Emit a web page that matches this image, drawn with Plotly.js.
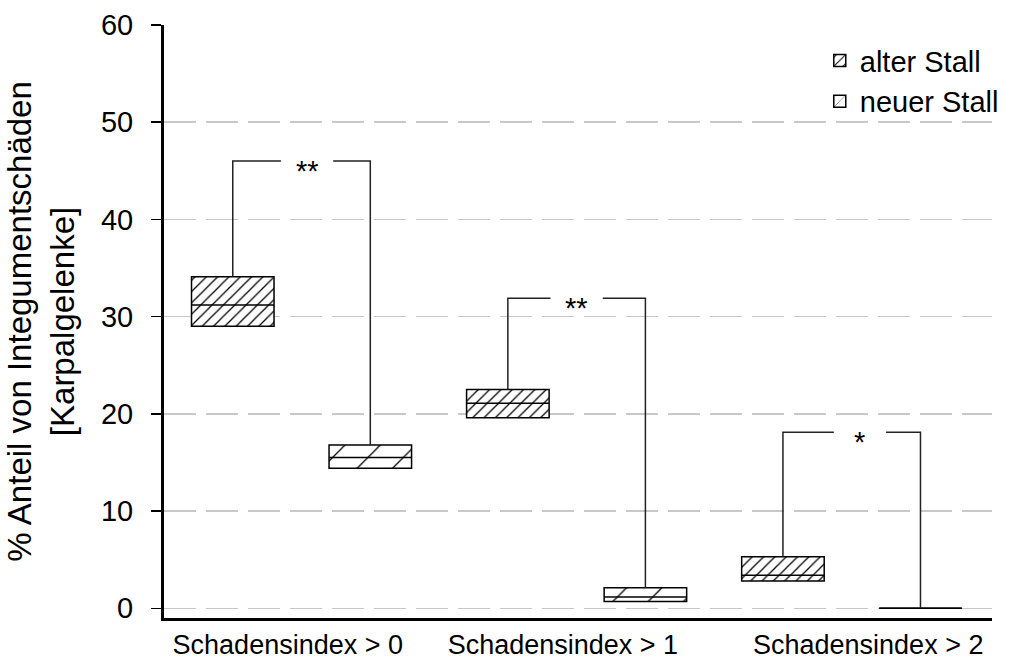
<!DOCTYPE html>
<html>
<head>
<meta charset="utf-8">
<script src="https://cdn.plot.ly/plotly-3.0.1.min.js"></script>
<style>html,body{margin:0;padding:0;background:#fff;}#chart{width:1019px;height:661px;}</style>
</head>
<body>
<div id="chart"></div>
<script>
// ---- data ----
var categories = ['Schadensindex > 0', 'Schadensindex > 1', 'Schadensindex > 2'];
var seriesNames = ['alter Stall', 'neuer Stall'];
var alterQ1     = [29.0, 19.6, 2.8];
var alterMedian = [31.2, 21.1, 3.4];
var alterQ3     = [34.1, 22.5, 5.3];
var neuerQ1     = [14.4, 0.7, 0.0];
var neuerMedian = [15.5, 1.15, 0.0];
var neuerQ3     = [16.8, 2.1, 0.0];
var bracketTop  = [46.0, 31.9, 18.1];
var stars       = ['**', '**', '*'];
var yTicks      = [0, 10, 20, 30, 40, 50, 60];
var gridTicks   = [0, 10, 20, 30, 40, 50];

// ---- layout constants (positions / styles) ----
var FONT = 'Liberation Sans, Arial, sans-serif';
var boxW = 0.30;
var offA = -0.40, offN = 0.10;
var cA = offA + boxW / 2, cN = offN + boxW / 2;
var starShift = [0.02, 0.0, 0.03];
var gapHalf = 0.095;
var labelShift = [-0.05, -0.05, 0.06];

var xpos = categories.map(function (c, i) { return i + 1; });

function boxTrace(name, q1, q3, off, size, solidity) {
  return {
    type: 'bar', name: name, x: xpos,
    y: q3.map(function (v, i) { return v - q1[i]; }),
    base: q1, offset: off, width: boxW,
    marker: {
      color: 'white',
      line: { color: 'black', width: 1.5 },
      pattern: { shape: '/', size: size, solidity: solidity, fgcolor: 'black', bgcolor: 'white' }
    },
    hoverinfo: 'skip'
  };
}

function medianTrace(med, off) {
  var xs = [], ys = [];
  xpos.forEach(function (x, i) {
    xs.push(x + off, x + off + boxW, null);
    ys.push(med[i], med[i], null);
  });
  return { type: 'scatter', mode: 'lines', x: xs, y: ys, showlegend: false,
           line: { color: 'black', width: 1.5 }, hoverinfo: 'skip' };
}

var bx = [], by = [];
xpos.forEach(function (x, i) {
  var s = x + starShift[i];
  bx.push(x + cA, x + cA, s - gapHalf, null, s + gapHalf, x + cN, x + cN, null);
  by.push(alterQ3[i], bracketTop[i], bracketTop[i], null, bracketTop[i], bracketTop[i], neuerQ3[i], null);
});

var data = [
  boxTrace(seriesNames[0], alterQ1, alterQ3, offA, 8, 0.16),
  boxTrace(seriesNames[1], neuerQ1, neuerQ3, offN, 25, 0.05),
  medianTrace(alterMedian, offA),
  medianTrace(neuerMedian, offN),
  { type: 'scatter', mode: 'lines', x: bx, y: by, showlegend: false,
    line: { color: '#222', width: 1.5 }, hoverinfo: 'skip' },
  { type: 'scatter', mode: 'lines', x: [], y: [], yaxis: 'y2', showlegend: false, hoverinfo: 'skip' }
];

var annotations = stars.map(function (t, i) {
  return { x: xpos[i] + starShift[i], y: bracketTop[i], xref: 'x', yref: 'y', text: t,
           showarrow: false, xanchor: 'center', yanchor: 'middle', yshift: -10,
           font: { family: FONT, size: 29, color: 'black' } };
});

var layout = {
  width: 1019, height: 661,
  margin: { l: 164, r: 27, t: 25, b: 43 },
  paper_bgcolor: 'white', plot_bgcolor: 'white',
  barmode: 'overlay',
  showlegend: true,
  legend: { x: 0.792, xanchor: 'left', y: 0.983, yanchor: 'top', tracegroupgap: 0,
            bgcolor: 'rgba(0,0,0,0)', font: { family: FONT, size: 29, color: 'black' } },
  xaxis: {
    range: [0.5, 3.51],
    tickvals: xpos.map(function (x, i) { return x + labelShift[i]; }),
    ticktext: categories,
    ticks: '', showline: true, linewidth: 3, linecolor: 'black',
    showgrid: false, zeroline: false, ticklabelstandoff: 1,
    tickfont: { family: FONT, size: 27, color: 'black' }
  },
  yaxis: {
    range: [-1, 60], tickvals: yTicks, ticktext: yTicks.map(String),
    ticks: 'outside', ticklen: 10, tickwidth: 1.5, tickcolor: 'black',
    showline: true, linewidth: 3, linecolor: 'black',
    showgrid: false, zeroline: false, ticklabelstandoff: 12,
    tickfont: { family: FONT, size: 29, color: 'black' },
    title: { text: '% Anteil von Integumentschäden<br>[Karpalgelenke]', standoff: 17,
             font: { family: FONT, size: 33, color: 'black' } }
  },
  yaxis2: {
    overlaying: 'y', range: [-1, 60], tickvals: gridTicks,
    showgrid: true, gridcolor: '#c8c8c8', gridwidth: 1.5, griddash: '32px,10px',
    showticklabels: false, ticks: '', showline: false, zeroline: false
  },
  annotations: annotations,
  hovermode: false
};

Plotly.newPlot('chart', data, layout, { staticPlot: true, displayModeBar: false });
</script>
</body>
</html>
